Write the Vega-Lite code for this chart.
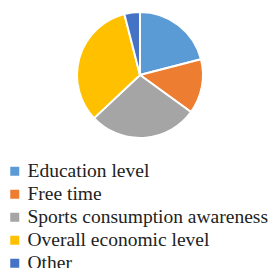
{
  "$schema": "https://vega.github.io/schema/vega-lite/v6.json",
  "width": 256,
  "height": 150,
  "autosize": {"type": "none"},
  "padding": {"left": 12, "top": 0, "right": 0, "bottom": 118},
  "background": "white",
  "data": {"values": [
    {"factor": "Education level", "share": 21, "k": 1},
    {"factor": "Free time", "share": 14, "k": 2},
    {"factor": "Sports consumption awareness", "share": 28, "k": 3},
    {"factor": "Overall economic level", "share": 33, "k": 4},
    {"factor": "Other", "share": 4, "k": 5}
  ]},
  "mark": {"type": "arc", "outerRadius": 63, "stroke": "white", "strokeWidth": 2},
  "encoding": {
    "theta": {"field": "share", "type": "quantitative", "stack": true},
    "order": {"field": "k", "type": "quantitative"},
    "color": {
      "field": "factor", "type": "nominal",
      "scale": {
        "domain": ["Education level", "Free time", "Sports consumption awareness", "Overall economic level", "Other"],
        "range": ["#5B9BD5", "#ED7D31", "#A5A5A5", "#FFC000", "#4472C4"]
      },
      "legend": {
        "title": null,
        "orient": "none",
        "legendX": -7,
        "legendY": 161.5,
        "padding": 0,
        "symbolType": "square",
        "symbolSize": 81,
        "symbolStrokeWidth": 0,
        "labelFont": "Liberation Serif",
        "labelFontSize": 19.5,
        "labelColor": "#222222",
        "labelOffset": 3,
        "rowPadding": 2,
        "labelLimit": 300
      }
    }
  },
  "config": {"view": {"stroke": null}}
}
